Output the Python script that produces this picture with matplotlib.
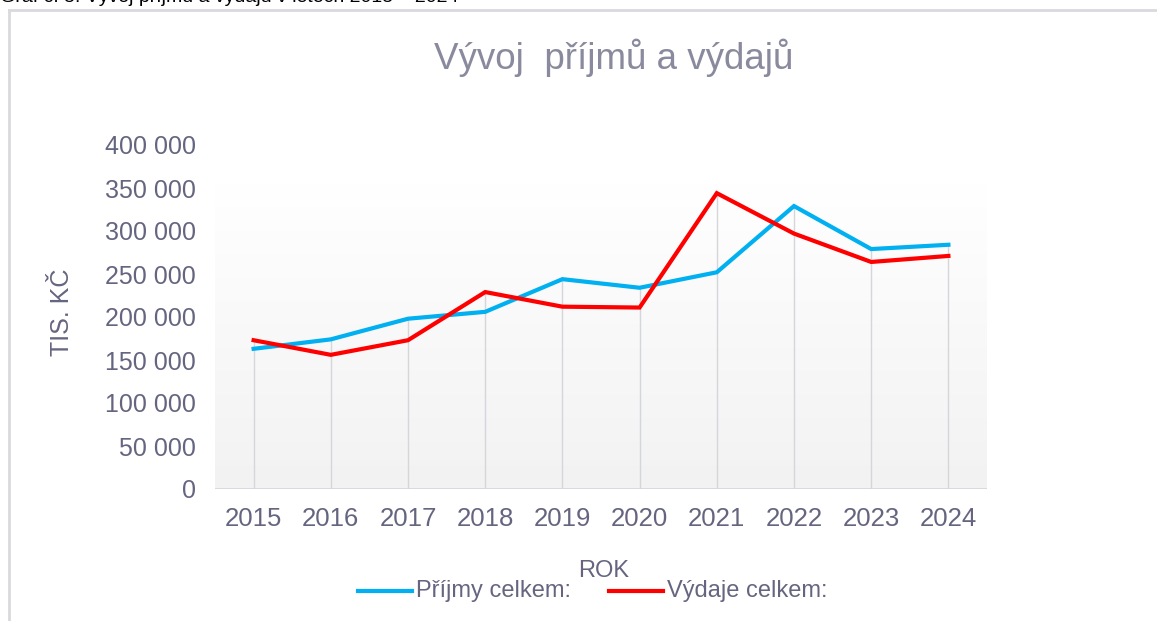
import matplotlib
matplotlib.use("Agg")
import matplotlib.pyplot as plt
import numpy as np
from matplotlib.lines import Line2D
from matplotlib.colors import LinearSegmentedColormap

plt.rcParams['font.family'] = ['Liberation Sans', 'DejaVu Sans']

years = ['2015', '2016', '2017', '2018', '2019', '2020', '2021', '2022', '2023', '2024']
prijmy = [163000, 174000, 198000, 206000, 244000, 234000, 252000, 329000, 279000, 284000]
vydaje = [173000, 156000, 173000, 229000, 212000, 211000, 344000, 297000, 264000, 271000]
yticks = [0, 50000, 100000, 150000, 200000, 250000, 300000, 350000, 400000]
ytick_labels = ['0', '50 000', '100 000', '150 000', '200 000', '250 000',
                '300 000', '350 000', '400 000']

title = 'Vývoj  příjmů a výdajů'
caption = 'Graf č. 5: Vývoj příjmů a výdajů v letech 2015 – 2024'
series_names = ['Příjmy celkem:', 'Výdaje celkem:']

text_col = '#656580'
title_col = '#8a8a9e'
blue = '#00b0f0'
red = '#ff0000'

W, H = 1157, 621
fig = plt.figure(figsize=(W / 100, H / 100), dpi=100)
fig.patch.set_facecolor('white')

# outer frame (top and left borders visible)
fig.add_artist(Line2D([9 / W, 1], [1 - 10 / H, 1 - 10 / H], color='#d9d9de', lw=2,
                      transform=fig.transFigure))
fig.add_artist(Line2D([9 / W, 9 / W], [0, 1 - 10 / H], color='#d9d9de', lw=2,
                      transform=fig.transFigure))

# clipped caption at the very top
fig.text(0.0, 1 + 4 / H, caption, fontsize=14, color='black', ha='left', va='center')

left, right = 215 / W, 987 / W
bottom, top = 1 - 489 / H, 1 - 145 / H
ax = fig.add_axes([left, bottom, right - left, top - bottom])
ax.set_facecolor('none')

x = np.arange(len(years))
ax.set_xlim(-0.5, len(years) - 0.5)
ax.set_ylim(0, 400000)

# gradient background of plot area
grad_top = (489 - 183) / (489 - 145)
grad = np.linspace(0, 1, 256).reshape(-1, 1)
cmap = LinearSegmentedColormap.from_list('g', ['#f2f2f2', '#ffffff'])
ax.imshow(grad, cmap=cmap, aspect='auto', origin='lower',
          extent=(0, 1, 0, grad_top), transform=ax.transAxes, zorder=0)

# drop lines
tops = [max(a, b) for a, b in zip(prijmy, vydaje)]
ax.vlines(x, 0, tops, colors='#d5d5dc', lw=1, zorder=1)
ax.axhline(0, color='#d5d5dc', lw=1.2, zorder=1)

ax.plot(x, prijmy, color=blue, lw=3, solid_joinstyle='miter', zorder=3)
ax.plot(x, vydaje, color=red, lw=3, solid_joinstyle='miter', zorder=3)

for s in ax.spines.values():
    s.set_visible(False)
ax.set_xticks(x)
ax.set_xticklabels(years, fontsize=18.5, color=text_col)
ax.set_yticks(yticks)
ax.set_yticklabels(ytick_labels, fontsize=18, color=text_col)
ax.tick_params(axis='both', length=0)
ax.tick_params(axis='x', pad=13)
ax.tick_params(axis='y', pad=14)

fig.text(614 / W, 1 - 58 / H, title, fontsize=26.5, color=title_col, ha='center', va='center')
fig.text(62 / W, 1 - 312 / H, 'TIS. KČ', fontsize=18, color=text_col, rotation=90,
         ha='center', va='center')
fig.text(604 / W, 1 - 571 / H, 'ROK', fontsize=17, color=text_col, ha='center', va='center')

# legend
ly = 1 - 591 / H
for (x0, x1, tx), col, name in zip([(358, 412, 416), (609, 663, 667)], [blue, red], series_names):
    fig.add_artist(Line2D([x0 / W, x1 / W], [ly, ly], color=col, lw=3,
                          transform=fig.transFigure))
    fig.text(tx / W, ly, name, fontsize=17, color=text_col, ha='left', va='center')

fig.savefig('out.png', dpi=100)
